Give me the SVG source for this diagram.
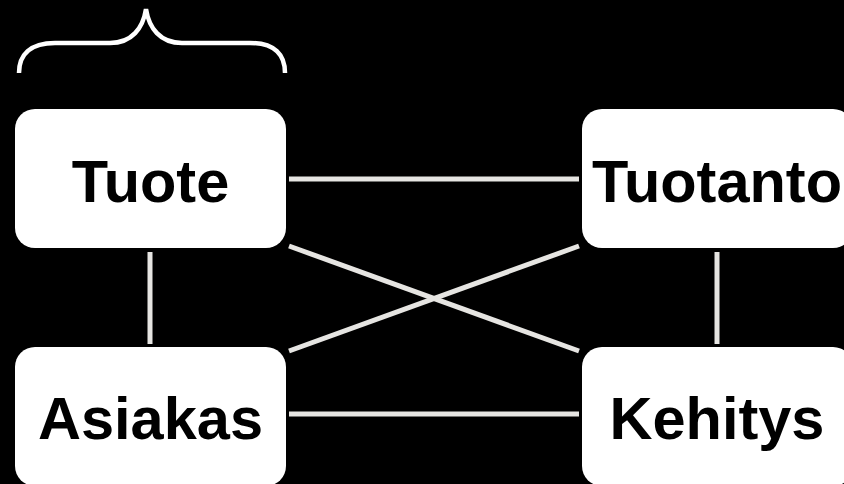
<svg xmlns="http://www.w3.org/2000/svg" width="844" height="484" viewBox="0 0 844 484">
  <style>
    .box { fill: #ffffff; }
    .label { font-family: "Liberation Sans", Arial, sans-serif; font-weight: bold; font-size: 59.5px; fill: #000000; text-anchor: middle; }
    .link { stroke: #e6e5e2; stroke-width: 5; fill: none; }
    .brace { stroke: #ffffff; stroke-width: 4.5; fill: none; stroke-linecap: butt; }
  </style>
  <rect x="0" y="0" width="844" height="484" fill="#000000"/>

  <!-- connectors -->
  <g id="connectors">
    <line class="link" x1="289" y1="179" x2="579" y2="179"/>
    <line class="link" x1="289" y1="414" x2="579" y2="414"/>
    <line class="link" x1="289" y1="246" x2="579" y2="351"/>
    <line class="link" x1="289" y1="351" x2="579" y2="246"/>
    <line class="link" x1="150" y1="252" x2="150" y2="344"/>
    <line class="link" x1="717" y1="252" x2="717" y2="344"/>
  </g>

  <!-- brace above Tuote -->
  <g id="brace">
    <path class="brace" d="M19,73 C19,55 30,43 55,43 L110,43 C132,43 143,28 146,9 C149,28 160,43 182,43 L250,43 C275,43 285,55 285,73"/>
  </g>

  <g id="node-tuote">
    <rect class="box" x="15" y="109" width="271" height="139" rx="20"/>
    <text class="label" x="150.5" y="201.5">Tuote</text>
  </g>
  <g id="node-tuotanto">
    <rect class="box" x="582" y="109" width="271" height="139" rx="20"/>
    <text class="label" x="717" y="201.5">Tuotanto</text>
  </g>
  <g id="node-asiakas">
    <rect class="box" x="15" y="347" width="271" height="139" rx="20"/>
    <text class="label" x="150.5" y="438.5">Asiakas</text>
  </g>
  <g id="node-kehitys">
    <rect class="box" x="582" y="347" width="271" height="139" rx="20"/>
    <text class="label" x="717" y="438.5">Kehitys</text>
  </g>
</svg>
